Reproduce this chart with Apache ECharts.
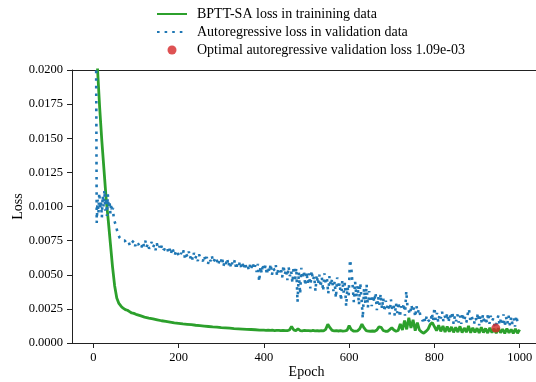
<!DOCTYPE html>
<html><head><meta charset="utf-8">
<script src="https://cdn.jsdelivr.net/npm/echarts@6/dist/echarts.min.js"></script>
<style>html,body{margin:0;padding:0;background:#fff}#c{width:536px;height:382px}</style>
</head><body><div id="c"></div>
<script>
// ---- tick labels ----
const xTicks = [0, 200, 400, 600, 800, 1000];
const yTicks = [0, 0.0025, 0.005, 0.0075, 0.01, 0.0125, 0.015, 0.0175, 0.02];

// ---- epoch grids (x positions of the samples) ----
function seq(a, b, s) { const r = []; for (let v = a; v <= b + 1e-9; v += s) r.push(v); return r; }
const greenEpochs = seq(0, 100, 5).concat(seq(110, 400, 10), seq(405, 1000, 5));
const blueEpochs = seq(0, 48, 2).concat(seq(50, 998, 3));

// ---- BPTT-SA loss in training data ----
const greenLoss = [
  0.032, 0.0255, 0.0200, 0.0172, 0.0148, 0.0127, 0.0106, 0.0090, 0.0073, 0.0056, 0.0042,
  0.0033, 0.0029, 0.0027, 0.00255, 0.00245, 0.0024, 0.0023, 0.0022, 0.00217, 0.0021,
  // 110..400 step 10
  0.0020, 0.0019, 0.00183, 0.00177, 0.0017, 0.00163, 0.00158, 0.00153, 0.00148, 0.00144,
  0.0014, 0.00137, 0.00134, 0.0013, 0.00127, 0.00124, 0.00121, 0.00118, 0.00116, 0.00113,
  0.00111, 0.00109, 0.00106, 0.00104, 0.00102, 0.00100, 0.00099, 0.00097, 0.00095, 0.00094,
  // 405..1000 step 5
  0.00093, 0.00095, 0.00092, 0.00094, 0.00091, 0.00093, 0.00092, 0.00090, 0.00093, 0.00091,
  0.00090, 0.00095, 0.00122, 0.00096, 0.00090, 0.00105, 0.00091, 0.00089, 0.00092, 0.00090,
  0.00091, 0.00088, 0.00092, 0.00089, 0.00090, 0.00088, 0.00091, 0.00089, 0.00100, 0.00138,
  0.00112, 0.00092, 0.00089, 0.00090, 0.00088, 0.00090, 0.00087, 0.00089, 0.00092, 0.00128,
  0.00098, 0.00088, 0.00087, 0.00089, 0.00105, 0.00138, 0.00110, 0.00090, 0.00087, 0.00086,
  0.00088, 0.00086, 0.00095, 0.00118, 0.00115, 0.00092, 0.00086, 0.00085, 0.00098, 0.00112,
  0.00095, 0.00086, 0.00092, 0.00140, 0.00095, 0.00165, 0.00100, 0.00185, 0.00110, 0.00170,
  0.00090, 0.00150, 0.00095, 0.00080, 0.00072, 0.00085, 0.00100, 0.00135, 0.00150, 0.00120,
  0.00090, 0.00130, 0.00085, 0.00125, 0.00080, 0.00120, 0.00082, 0.00118, 0.00078, 0.00115,
  0.00080, 0.00122, 0.00076, 0.00110, 0.00079, 0.00125, 0.00075, 0.00112, 0.00078, 0.00108,
  0.00074, 0.00115, 0.00077, 0.00106, 0.00073, 0.00112, 0.00076, 0.00104, 0.00072, 0.00108,
  0.00075, 0.00102, 0.00071, 0.00106, 0.00074, 0.00100, 0.00070, 0.00104, 0.00072, 0.00098
];

// ---- Autoregressive loss in validation data ----
const blueLoss = [
  // 0..48 step 2
  0.040, 0.036, 0.031, 0.026, 0.0088, 0.0105, 0.0095, 0.0110, 0.0098, 0.0104,
  0.0092, 0.0108, 0.0100, 0.0112, 0.0097, 0.0106, 0.0093, 0.0109, 0.0099, 0.0104,
  0.0095, 0.0102, 0.0096, 0.0099, 0.0091,
  // 50..998 step 3 (one row = 30 epochs)
  .0090, .0086, .0082, .0079, .0077, .0076, .0075, .0074, .0075, .0073,
  .0072, .0074, .0071, .0073, .0072, .0075, .0071, .0074, .0072, .0073,
  .0073, .0070, .0074, .0071, .0075, .0070, .0073, .0069, .0072, .0074,
  .0070, .0072, .0068, .0073, .0069, .0071, .0068, .0072, .0069, .0070,
  .0068, .0070, .0066, .0069, .0065, .0070, .0067, .0064, .0068, .0066,
  .0067, .0063, .0066, .0064, .0068, .0062, .0065, .0063, .0067, .0062,
  .0065, .0061, .0066, .0062, .0064, .0060, .0065, .0062, .0063, .0060,
  .0064, .0060, .0063, .0058, .0062, .0060, .0064, .0059, .0061, .0063,
  .0062, .0057, .0061, .0059, .0063, .0056, .0060, .0058, .0062, .0056,
  .0060, .0055, .0059, .0057, .0061, .0054, .0058, .0056, .0060, .0055,
  .0058, .0054, .0059, .0055, .0057, .0053, .0058, .0055, .0059, .0054,
  .0057, .0052, .0058, .0045, .0056, .0051, .0058, .0053, .0057, .0050,
  .0056, .0052, .0058, .0050, .0055, .0053, .0057, .0049, .0055, .0052,
  .0055, .0048, .0057, .0050, .0054, .0046, .0056, .0049, .0053, .0044,
  .0056, .0045, .0055, .0030, .0052, .0036, .0055, .0047, .0053, .0042,
  .0052, .0044, .0051, .0040, .0053, .0046, .0049, .0038, .0050, .0043,
  .0050, .0041, .0048, .0038, .0051, .0044, .0047, .0036, .0049, .0042,
  .0047, .0038, .0045, .0033, .0048, .0040, .0044, .0031, .0046, .0037,
  .0044, .0027, .0041, .0035, .0061, .0055, .0043, .0030, .0045, .0034,
  .0042, .0028, .0044, .0033, .0018, .0040, .0029, .0043, .0026, .0038,
  .0039, .0027, .0035, .0030, .0037, .0024, .0034, .0028, .0036, .0025,
  .0033, .0023, .0031, .0026, .0029, .0021, .0032, .0025, .0028, .0020,
  .0029, .0022, .0030, .0019, .0027, .0024, .0029, .0020, .0038, .0026,
  .0027, .0021, .0028, .0023, .0026, .0019, .0027, .0022, .0025, .0020,
  .0021, .0016, .0019, .0015, .0020, .0017, .0018, .0015, .0022, .0016,
  .0026, .0017, .0022, .0015, .0021, .0018, .0023, .0016, .0020, .0017,
  .0022, .0015, .0021, .0017, .0023, .0014, .0020, .0016, .0021, .0015,
  .0020, .0014, .0022, .0016, .0019, .0015, .0021, .0025, .0017, .0020,
  .0021, .0014, .0019, .0016, .0022, .0013, .0020, .0015, .0021, .0014,
  .0019, .0015, .0022, .0014, .0020, .0016, .0018, .0013, .00109, .0017,
  .0020, .0013, .0018, .0015, .0021, .0012, .0019, .0014, .0020, .0013,
  .0019, .0014, .0018, .0012, .0020, .0015, .0017
];

// ---- optimum ----
const optimalEpoch = [944];
const optimalLoss = [0.00109];

const names = [
  'BPTT-SA loss in trainining data',
  'Autoregressive loss in validation data',
  'Optimal autoregressive validation loss 1.09e-03'
];

const FONT = "'Liberation Serif', 'Times New Roman', serif";
const zip = (xs, ys) => xs.map((x, i) => [x, ys[i]]);
const hidden = { color: 'rgba(0,0,0,0)', opacity: 0, borderWidth: 0 };
const SPINE = '#222';

const chart = echarts.init(document.getElementById('c'), null, { renderer: 'canvas' });
chart.setOption({
  animation: false,
  backgroundColor: '#fff',
  textStyle: { fontFamily: FONT },
  grid: { left: 72, top: 70, width: 469, height: 273, outerBoundsMode: 'none', containLabel: false, show: false },
  legend: {
    orient: 'vertical', left: 156, top: 7, padding: 0,
    itemWidth: 30, itemHeight: 9, itemGap: 4,
    textStyle: { fontFamily: FONT, fontSize: 14, color: '#000', padding: [0, 0, 0, 5] },
    data: [
      { name: names[0], itemStyle: hidden },
      { name: names[1], itemStyle: hidden },
      { name: names[2] }
    ]
  },
  xAxis: [{
    type: 'value', min: -50, max: 1050, position: 'bottom',
    name: 'Epoch', nameLocation: 'middle', nameGap: 22, nameMoveOverlap: false,
    nameTextStyle: { fontFamily: FONT, fontSize: 14, color: '#000' },
    axisLine: { show: true, onZero: false, lineStyle: { color: SPINE, width: 1 } },
    axisTick: { show: true, inside: false, length: 5, customValues: xTicks, lineStyle: { color: SPINE } },
    axisLabel: { customValues: xTicks, fontFamily: FONT, fontSize: 12.5, color: '#000', margin: 8,
                 formatter: v => String(v) },
    splitLine: { show: false }
  }, {
    type: 'value', min: -50, max: 1050, position: 'top',
    axisLine: { show: true, onZero: false, lineStyle: { color: SPINE, width: 1 } },
    axisTick: { show: false }, axisLabel: { show: false }, splitLine: { show: false }
  }],
  yAxis: {
    type: 'value', min: 0, max: 0.02, interval: 0.0025, position: 'left',
    name: 'Loss', nameLocation: 'middle', nameGap: 47, nameMoveOverlap: false,
    nameTextStyle: { fontFamily: FONT, fontSize: 14, color: '#000' },
    axisLine: { show: true, onZero: false, lineStyle: { color: SPINE, width: 1 } },
    axisTick: { show: true, inside: false, length: 5, lineStyle: { color: SPINE } },
    axisLabel: { fontFamily: FONT, fontSize: 12.5, color: '#000', margin: 9, formatter: v => v.toFixed(4) },
    splitLine: { show: false }
  },
  series: [
    {
      name: names[0], type: 'line', data: zip(greenEpochs, greenLoss),
      symbol: 'none', clip: true,
      lineStyle: { color: '#2ca02c', width: 2.8 }, itemStyle: { color: '#2ca02c' }, z: 2
    },
    {
      name: names[1], type: 'line', data: zip(blueEpochs, blueLoss),
      symbol: 'none', clip: true,
      lineStyle: { color: '#1f77b4', width: 2.6, type: [2.6, 5], cap: 'butt' }, itemStyle: { color: '#1f77b4' }, z: 3
    },
    {
      name: names[2], type: 'scatter', data: zip(optimalEpoch, optimalLoss),
      symbol: 'circle', symbolSize: 9,
      itemStyle: { color: '#d62728' }, z: 4
    }
  ]
});
</script>
</body></html>
